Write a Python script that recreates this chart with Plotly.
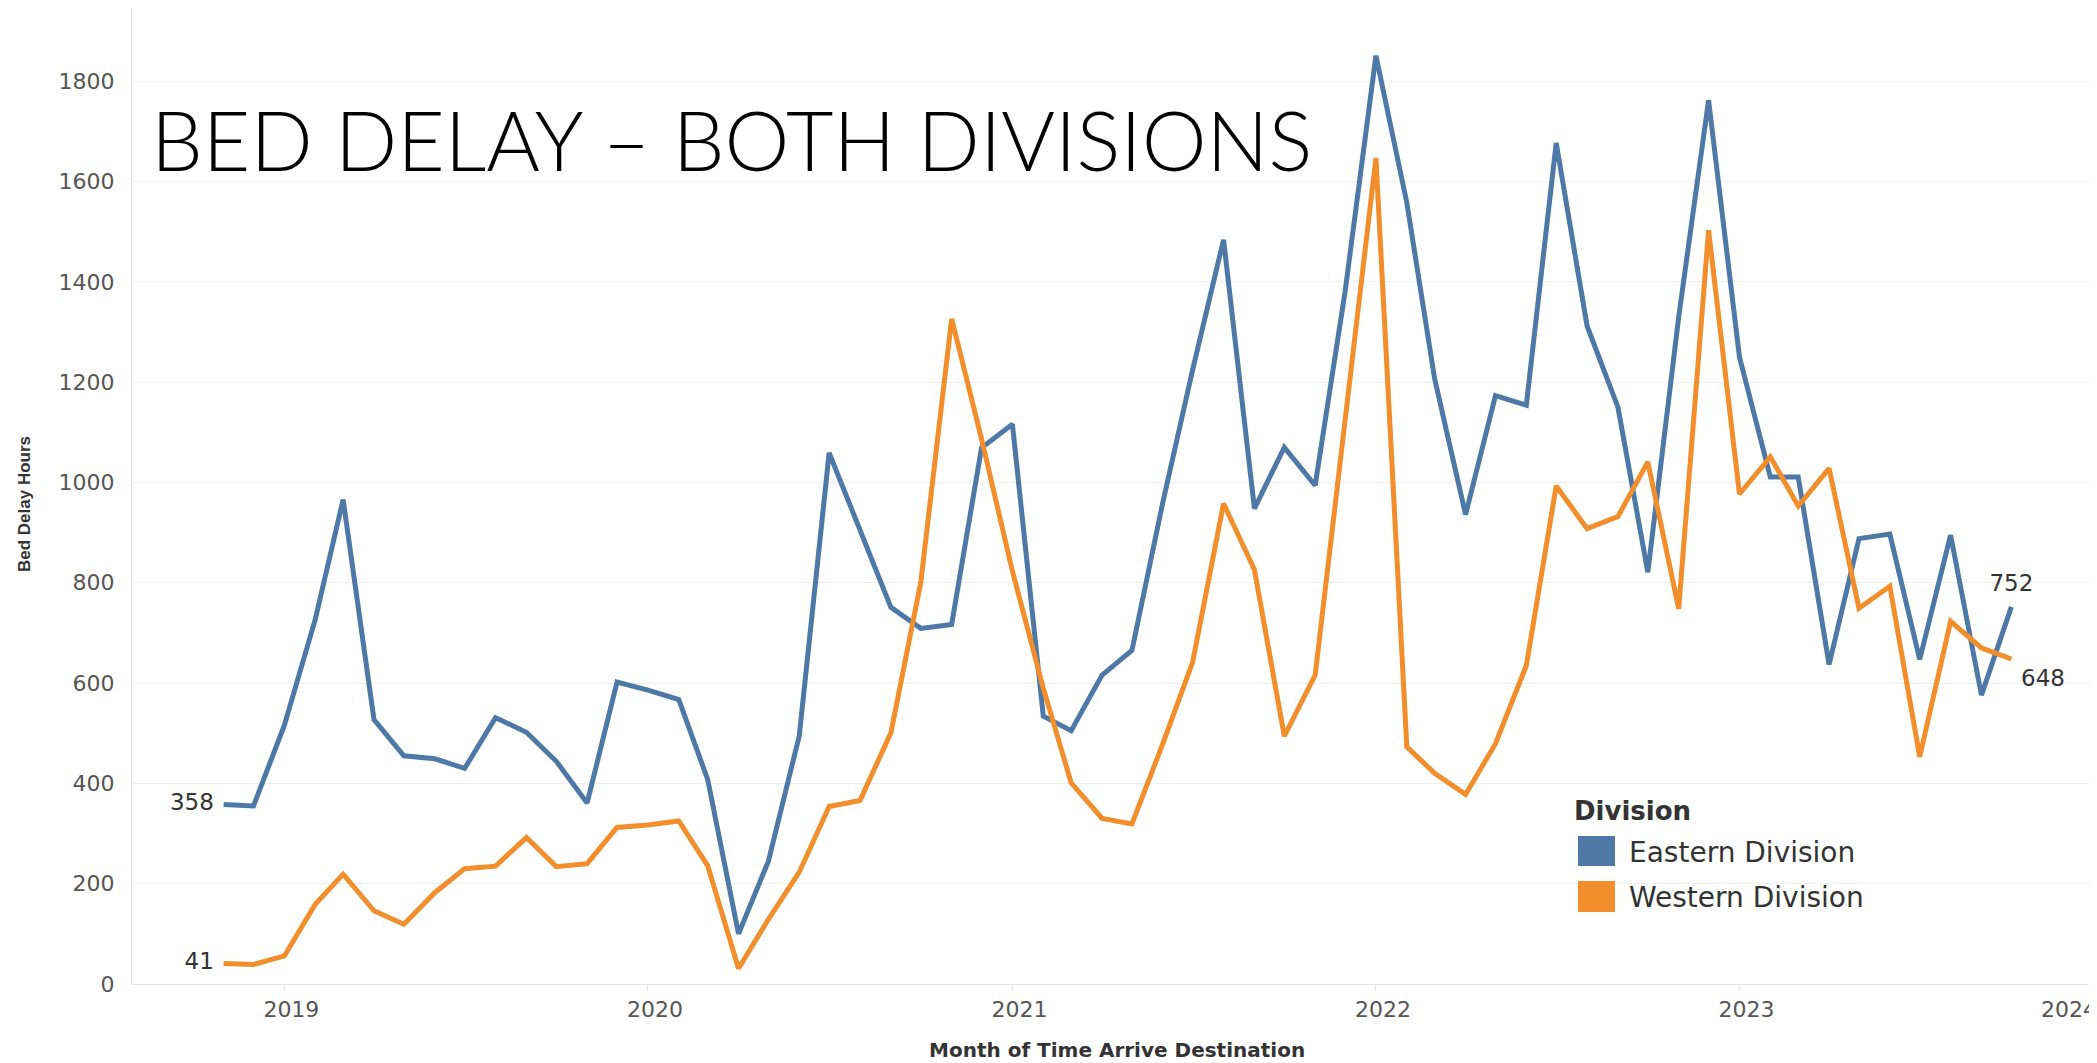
import plotly.graph_objects as go
import pandas as pd

# ---- data ----
months = pd.date_range("2018-11-01", periods=60, freq="MS")

eastern = [358, 355, 516, 727, 966, 527, 455, 449, 430, 531,
           502, 444, 361, 602, 586, 567, 408, 100, 245, 495,
           1059, 905, 751, 709, 717, 1069, 1116, 534, 505, 616,
           665, 960, 1225, 1484, 948, 1070, 994, 1380, 1851, 1558,
           1206, 936, 1173, 1154, 1677, 1312, 1150, 821, 1330, 1762,
           1250, 1011, 1011, 637, 888, 897, 647, 895, 576, 752]

western = [41, 39, 56, 159, 219, 146, 119, 182, 230, 235,
           292, 234, 240, 312, 317, 325, 236, 31, 129, 223,
           354, 366, 501, 801, 1326, 1087, 823, 590, 401, 330,
           319, 479, 642, 958, 826, 494, 616, 1120, 1647, 473,
           420, 378, 479, 635, 993, 908, 932, 1041, 748, 1503,
           977, 1051, 953, 1028, 749, 793, 453, 723, 670, 648]

series_names = ["Eastern Division", "Western Division"]
year_ticks = ["2019-01-01", "2020-01-01", "2021-01-01", "2022-01-01", "2023-01-01"]
year_labels = ["2019", "2020", "2021", "2022", "2023"]
y_ticks = [0, 200, 400, 600, 800, 1000, 1200, 1400, 1600, 1800]

BLUE = "#4e79a7"
ORANGE = "#f28e2b"
TXT = "#333333"
TICK_FONT = dict(family="DejaVu Sans", size=22, color="#555555")
LABEL_FONT = dict(family="DejaVu Sans", size=23, color=TXT)

OFF = 8  # page body margin
PAGE_W, PAGE_H = 2097, 1063
W, H = PAGE_W - OFF, PAGE_H - OFF
# plot area in page pixels
P_LEFT, P_RIGHT, P_TOP, P_BOTTOM = 132, 2097, 8, 984
L = P_LEFT - OFF
R = 0
T = 0
B = H - (P_BOTTOM - OFF)
PW, PH = W - L - R, H - T - B


def px(xp):
    return (xp - P_LEFT) / PW


def py(yp):
    return (P_BOTTOM - yp) / PH


def end_labels(vals):
    t = [""] * len(vals)
    t[0] = str(vals[0])
    t[-1] = str(vals[-1])
    return t


def end_sizes(vals, s):
    z = [0] * len(vals)
    z[0] = s
    z[-1] = s
    return z


fig = go.Figure()

fig.add_trace(go.Scatter(
    x=months, y=eastern, mode="lines+markers+text", name=series_names[0],
    line=dict(color=BLUE, width=5),
    marker=dict(size=end_sizes(eastern, 14), color=BLUE, opacity=0),
    text=end_labels(eastern),
    textposition=["middle left"] + ["top center"] * 59,
    textfont=LABEL_FONT,
    cliponaxis=False, showlegend=False,
))
fig.add_trace(go.Scatter(
    x=months, y=western, mode="lines+markers+text", name=series_names[1],
    line=dict(color=ORANGE, width=5),
    marker=dict(size=end_sizes(western, 14), color=ORANGE, opacity=0),
    text=end_labels(western),
    textposition=["middle left"] + ["bottom right"] * 59,
    textfont=LABEL_FONT,
    cliponaxis=False, showlegend=False,
))

fig.update_layout(
    width=W, height=H,
    margin=dict(l=L, r=R, t=T, b=B),
    plot_bgcolor="white", paper_bgcolor="white",
    showlegend=False,
    title=dict(
        text="BED DELAY – BOTH DIVISIONS",
        font=dict(family="Lato, Liberation Sans", size=82, color="black", weight=300),
        xref="container", yref="container",
        x=(151 - OFF) / W, xanchor="left",
        y=1 - (142 - OFF) / H, yanchor="middle",
    ),
)

fig.update_xaxes(
    type="date",
    range=["2018-08-01", "2023-12-26"],
    tickvals=year_ticks, ticktext=year_labels,
    ticks="outside", ticklen=6, tickcolor="#e6e6e6",
    ticklabelshift=7,
    showgrid=False, showline=True, linecolor="#e6e6e6", linewidth=1,
    tickfont=TICK_FONT, zeroline=False,
)
fig.update_yaxes(
    range=[0, 1946],
    tickvals=y_ticks,
    showgrid=True, gridcolor="#efefef", gridwidth=1,
    showline=True, linecolor="#e6e6e6", linewidth=1,
    ticks="", ticklabelstandoff=12,
    tickfont=TICK_FONT, zeroline=False,
)

annotations = [
    # x axis title
    dict(text="Month of Time Arrive Destination", xref="paper", yref="paper",
         x=px(1117), y=py(1050), xanchor="center", yanchor="middle", showarrow=False,
         font=dict(family="DejaVu Sans", size=20, color=TXT, weight="bold")),
    # y axis title
    dict(text="Bed Delay Hours", xref="paper", yref="paper",
         x=px(24), y=py(504), xanchor="center", yanchor="middle", showarrow=False,
         textangle=-90,
         font=dict(family="Liberation Sans", size=17, color=TXT, weight="bold")),
    # last year label (kept inside the view like the original)
    dict(text="2024", xref="paper", yref="paper",
         x=1.0, y=py(1010), xanchor="right", yanchor="middle", showarrow=False,
         xshift=2, font=TICK_FONT),
    # legend
    dict(text="Division", xref="paper", yref="paper",
         x=px(1572), y=py(811), xanchor="left", yanchor="middle", showarrow=False,
         font=dict(family="DejaVu Sans", size=26, color=TXT, weight="bold")),
    dict(text=series_names[0], xref="paper", yref="paper",
         x=px(1627), y=py(852), xanchor="left", yanchor="middle", showarrow=False,
         font=dict(family="DejaVu Sans", size=28, color=TXT)),
    dict(text=series_names[1], xref="paper", yref="paper",
         x=px(1627), y=py(897), xanchor="left", yanchor="middle", showarrow=False,
         font=dict(family="DejaVu Sans", size=28, color=TXT)),
]
fig.update_layout(annotations=annotations)

shapes = [
    dict(type="rect", xref="paper", yref="paper", layer="between",
         x0=px(1548), x1=px(1945), y0=py(925), y1=py(788),
         fillcolor="white", line=dict(width=0)),
    dict(type="rect", xref="paper", yref="paper", layer="above",
         x0=px(1578), x1=px(1615), y0=py(866), y1=py(836),
         fillcolor=BLUE, line=dict(width=0)),
    dict(type="rect", xref="paper", yref="paper", layer="above",
         x0=px(1578), x1=px(1615), y0=py(912), y1=py(881),
         fillcolor=ORANGE, line=dict(width=0)),
]
fig.update_layout(shapes=shapes)

fig.write_html("out.html")
